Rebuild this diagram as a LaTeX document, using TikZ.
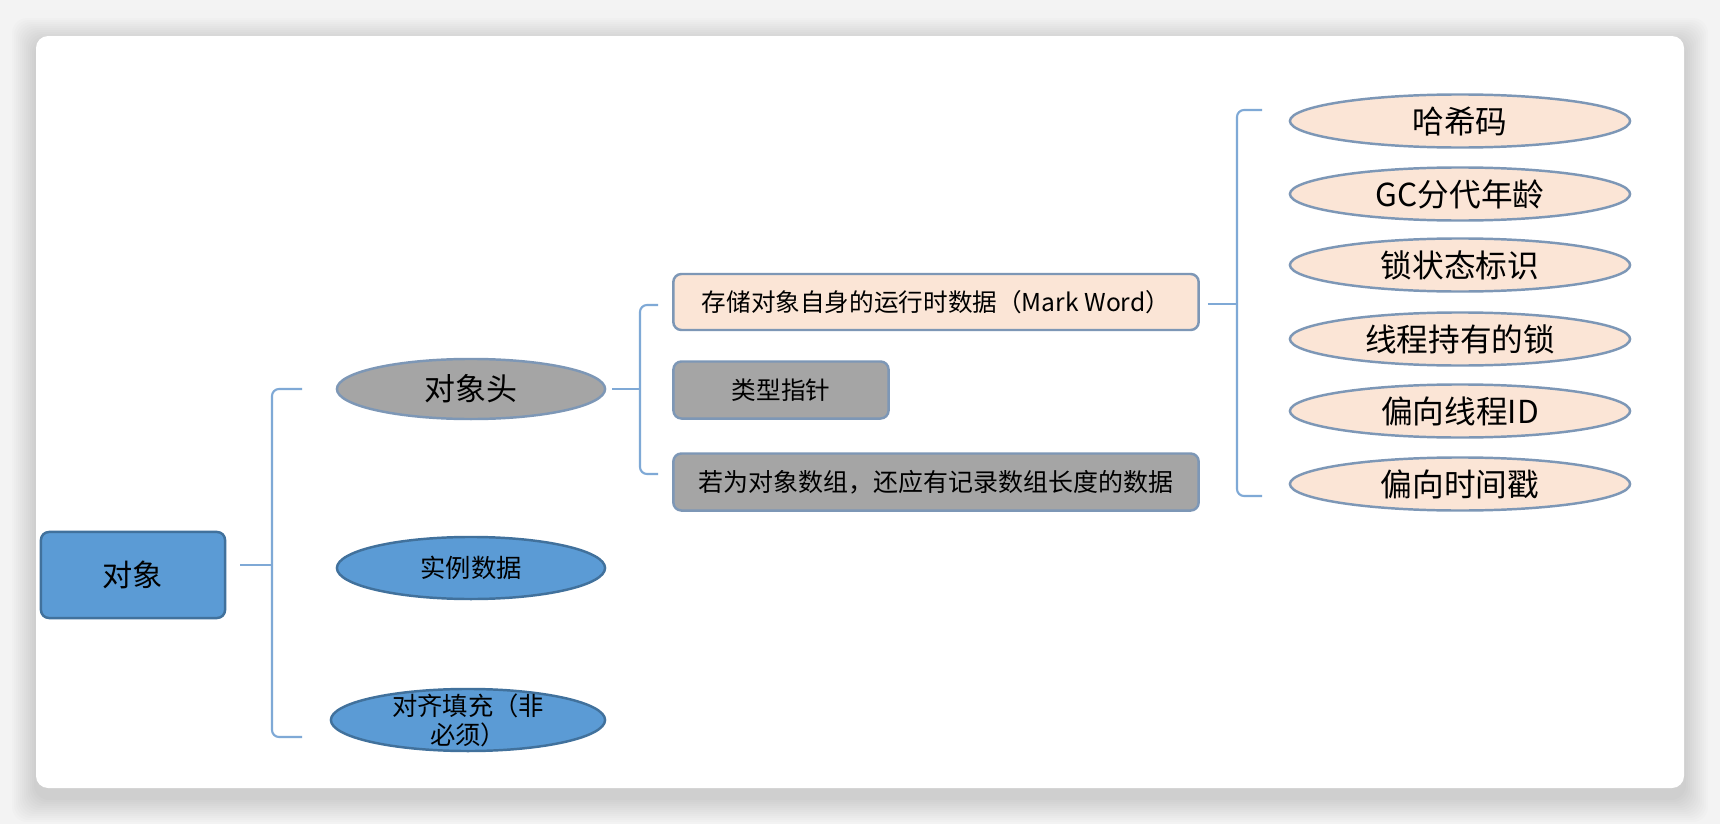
\documentclass[tikz,border=0pt]{standalone}
\usepackage{fontspec}
\setmainfont{Noto Sans CJK SC}
\usetikzlibrary{shapes.geometric}
\definecolor{objblue}{HTML}{5B9BD5}
\definecolor{objblueline}{HTML}{41719C}
\definecolor{objgrey}{HTML}{A5A5A5}
\definecolor{objpeach}{HTML}{FBE5D6}
\definecolor{objline}{HTML}{7D97B6}
\definecolor{braceblue}{HTML}{7FA9D6}
\definecolor{pagegrey}{HTML}{F3F3F3}
\newcommand{\fsz}[1]{\fontsize{#1pt}{#1pt}\selectfont}

\begin{document}
\begin{tikzpicture}[x=0.01cm,y=-0.01cm,
  rbox/.style={rectangle,rounded corners=0.08cm,line width=0.7pt,inner sep=0pt,text=black},
  ell/.style={ellipse,line width=0.7pt,inner sep=0pt,text=black},
  bluecol/.style={fill=objblue,draw=objblueline},
  greycol/.style={fill=objgrey,draw=objline},
  peachcol/.style={fill=objpeach,draw=objline},
  leaf/.style={ell,peachcol,minimum width=3.4cm,minimum height=0.53cm,font=\fsz{9}},
  brace/.style={draw=braceblue,line width=0.6pt,rounded corners=2pt}]
\useasboundingbox (0,0) rectangle (1720,824);
\fill[pagegrey] (0,0) rectangle (1720,824);
\foreach \s in {2,4,...,24}
  \fill[black,opacity=0.01,rounded corners=0.15cm] (36-\s,42-\s) rectangle (1684+\s,798+\s);
\fill[white,rounded corners=0.12cm] (36,36) rectangle (1684,788);
\node[rbox,bluecol,minimum width=1.84cm,minimum height=0.86cm,font=\fsz{8.6}](obj) at (133,575){对象};
\node[ell,greycol,minimum width=2.68cm,minimum height=0.60cm,font=\fsz{8.8}](hdr) at (471,389){对象头};
\node[ell,bluecol,minimum width=2.68cm,minimum height=0.62cm,font=\fsz{7.2}](inst) at (471,568){实例数据};
\node[ell,bluecol,minimum width=2.74cm,minimum height=0.62cm,font=\fsz{7.2}](pad) at (468,720){\smash{\raisebox{-2.5pt}{\begin{tabular}{@{}c@{}}对齐填充（非\\必须）\end{tabular}}}};
\node[rbox,peachcol,minimum width=5.25cm,minimum height=0.56cm,font=\fsz{7}](mark) at (936,302){存储对象自身的运行时数据（Mark Word）};
\node[rbox,greycol,minimum width=2.15cm,minimum height=0.57cm,font=\fsz{7}](kptr) at (781,390){类型指针};
\node[rbox,greycol,minimum width=5.25cm,minimum height=0.57cm,font=\fsz{7.1}](alen) at (936,482){若为对象数组，还应有记录数组长度的数据};
\node[leaf](hash) at (1460,121){哈希码};
\node[leaf](gcage) at (1460,194){GC分代年龄};
\node[leaf](lockflag) at (1460,265){锁状态标识};
\node[leaf](lockptr) at (1460,339){线程持有的锁};
\node[leaf](biasid) at (1460,411){偏向线程ID};
\node[leaf](biasts) at (1460,484){偏向时间戳};
\coordinate(a1) at (302,389);
\coordinate(a2) at (272,389);
\coordinate(am) at (272,565);
\coordinate(a3) at (272,737);
\coordinate(a4) at (302,737);
\coordinate(b1) at (658,305);
\coordinate(b2) at (640,305);
\coordinate(bm) at (640,389);
\coordinate(b3) at (640,474);
\coordinate(b4) at (658,474);
\coordinate(c1) at (1262,110);
\coordinate(c2) at (1237,110);
\coordinate(cm) at (1237,304);
\coordinate(c3) at (1237,496);
\coordinate(c4) at (1262,496);
\draw[brace](a1) -- (a2) -- (a3) -- (a4);
\draw[brace](b1) -- (b2) -- (b3) -- (b4);
\draw[brace](c1) -- (c2) -- (c3) -- (c4);
\draw[brace,shorten <=0.14cm](obj.east |- am) -- (am);
\draw[brace,shorten <=0.06cm](hdr.east |- bm) -- (bm);
\draw[brace,shorten <=0.08cm](mark.east |- cm) -- (cm);
\end{tikzpicture}
\end{document}
